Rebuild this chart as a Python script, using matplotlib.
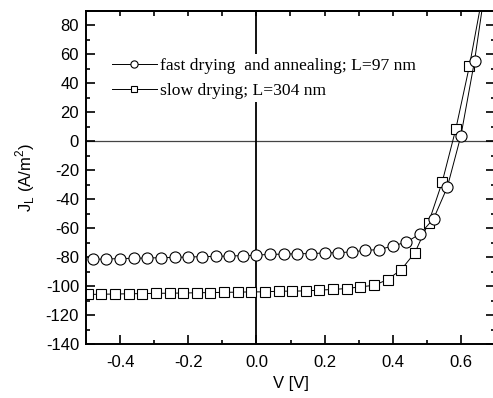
import matplotlib
matplotlib.use("Agg")
import matplotlib.pyplot as plt
from matplotlib.ticker import MultipleLocator

plt.rcParams["font.family"] = ["Liberation Sans", "DejaVu Sans"]
plt.rcParams["mathtext.fontset"] = "custom"
plt.rcParams["mathtext.rm"] = "Liberation Sans"

# fast drying and annealing (circles)
v_fast = [-0.48, -0.44, -0.40, -0.36, -0.32, -0.28, -0.24, -0.20, -0.16, -0.12,
          -0.08, -0.04, 0.00, 0.04, 0.08, 0.12, 0.16, 0.20, 0.24, 0.28,
          0.32, 0.36, 0.40, 0.44, 0.48, 0.52, 0.56, 0.60, 0.64, 0.68]
j_fast = [-81.5, -81.3, -81.0, -80.8, -80.6, -80.4, -80.2, -79.9, -79.7, -79.5,
          -79.2, -79.0, -78.7, -78.0, -78.0, -77.6, -77.6, -77.1, -76.9, -76.4,
          -75.3, -74.8, -72.3, -69.6, -64.0, -53.4, -31.7, 3.9, 55.6, 120.0]

# slow drying (squares)
v_slow = [-0.495, -0.455, -0.415, -0.375, -0.335, -0.295, -0.255, -0.215, -0.175, -0.135,
          -0.095, -0.055, -0.015, 0.025, 0.065, 0.105, 0.145, 0.185, 0.225, 0.265,
          0.305, 0.345, 0.385, 0.425, 0.465, 0.505, 0.545, 0.585, 0.625, 0.665]
j_slow = [-105.8, -105.6, -105.5, -105.3, -105.2, -105.0, -104.9, -104.8, -104.6, -104.5,
          -104.3, -104.2, -104.0, -104.0, -103.5, -103.5, -103.3, -102.8, -102.3, -101.7,
          -100.5, -99.5, -95.5, -88.6, -76.9, -56.3, -28.2, 8.5, 52.1, 103.0]

labels = ["fast drying  and annealing; L=97 nm", "slow drying; L=304 nm"]

fig = plt.figure(figsize=(4.93, 3.98), dpi=100)
ax = fig.add_axes([86 / 493, 54 / 398, 409 / 493, 333 / 398])

ax.axhline(0, color="#444444", lw=0.9, zorder=1)
ax.axvline(0, color="black", lw=1.3, zorder=1)

ax.plot(v_fast, j_fast, color="black", lw=0.7, marker="o", ms=8,
        mfc="white", mec="black", mew=0.8, label=labels[0], zorder=3)
ax.plot(v_slow, j_slow, color="black", lw=0.7, marker="s", ms=7,
        mfc="white", mec="black", mew=0.8, label=labels[1], zorder=2)

ax.set_xlim(-0.5, 0.7)
ax.set_ylim(-140, 90)
ax.xaxis.set_minor_locator(MultipleLocator(0.1))
ax.yaxis.set_minor_locator(MultipleLocator(10))
ax.set_xticks([-0.4, -0.2, 0.0, 0.2, 0.4, 0.6])
ax.set_xticklabels(["-0.4", "-0.2", "0.0", "0.2", "0.4", "0.6"])
ax.set_yticks(range(-140, 81, 20))
ax.set_yticklabels([str(t) for t in range(-140, 81, 20)])

for s in ax.spines.values():
    s.set_linewidth(1.4)

ax.tick_params(which="both", direction="in", left=True, right=True, bottom=True, top=False,
               labelsize=12, width=1.2)
ax.tick_params(which="major", length=6.5, pad=5)
ax.tick_params(which="minor", length=3)
ax.tick_params(axis="x", which="major", pad=8)

top = ax.secondary_xaxis("top")
top.set_xticks([-0.4, -0.3, -0.2, -0.1, 0.0, 0.1, 0.2, 0.3, 0.4, 0.5, 0.6])
top.tick_params(direction="in", length=3.5, width=1.2, labeltop=False)
top.spines["top"].set_linewidth(1.4)

ax.set_xlabel("V [V]", fontsize=12, labelpad=4)
ax.set_ylabel("J$_\\mathregular{L}$ (A/m$^\\mathregular{2}$)", fontsize=12, labelpad=6)

leg = ax.legend(loc="upper left", bbox_to_anchor=(108 / 493, 1 - 54 / 398),
                bbox_transform=fig.transFigure, frameon=True, fancybox=False,
                facecolor="white", edgecolor="none", framealpha=1, borderpad=0.2,
                borderaxespad=0, handlelength=2.6, handletextpad=0.2,
                labelspacing=0.5, markerscale=0.65,
                prop={"family": "Liberation Serif", "size": 12.6})

plt.savefig("out.png", dpi=100)
